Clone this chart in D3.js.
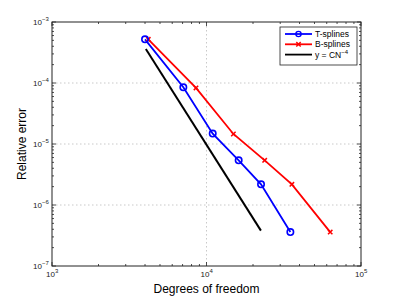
<!DOCTYPE html>
<html>
<head>
<meta charset="utf-8">
<script src="https://cdn.jsdelivr.net/npm/d3@7"></script>
<style>
  body { margin: 0; background: #fff; }
  text { font-family: "Liberation Sans", Arial, sans-serif; }
</style>
</head>
<body>
<div id="chart-area"></div>
<script>
// Data
var tDof   = [4000, 7080, 10970, 16150, 22540, 34900];
var tErr   = [5.2e-4, 8.5e-5, 1.48e-5, 5.4e-6, 2.18e-6, 3.6e-7];
var bDof   = [4200, 8550, 14930, 23800, 35700, 63200];
var bErr   = [5.2e-4, 8.3e-5, 1.46e-5, 5.4e-6, 2.18e-6, 3.6e-7];
var refDof = [4050, 22500];
var refErr = [3.6e-4, 3.8e-7];
var xTickExp = [3, 4, 5];
var yTickExp = [-7, -6, -5, -4, -3];

var margin = { left: 52, right: 38, top: 22, bottom: 34 },
    width = 399 - margin.left - margin.right,
    height = 300 - margin.top - margin.bottom;

var svg = d3.select("#chart-area").append("svg")
    .attr("width", 399)
    .attr("height", 300);

var g = svg.append("g")
    .attr("transform", "translate(" + margin.left + "," + margin.top + ")");

var x = d3.scaleLog().domain([1e3, 1e5]).range([0, width]);
var y = d3.scaleLog().domain([1e-7, 1e-3]).range([height, 0]);

// Grid (major decades only, dotted)
xTickExp.slice(1, -1).forEach(function(e) {
    g.append("line")
        .attr("x1", x(Math.pow(10, e))).attr("x2", x(Math.pow(10, e)))
        .attr("y1", 0).attr("y2", height)
        .attr("stroke", "#bbb").attr("stroke-width", 0.8)
        .attr("stroke-dasharray", "1.5,2.5");
});
yTickExp.slice(1, -1).forEach(function(e) {
    g.append("line")
        .attr("y1", y(Math.pow(10, e))).attr("y2", y(Math.pow(10, e)))
        .attr("x1", 0).attr("x2", width)
        .attr("stroke", "#bbb").attr("stroke-width", 0.8)
        .attr("stroke-dasharray", "1.5,2.5");
});

// Ticks, inward on all four sides
var xMinor = [], yMinor = [];
for (var e = 3; e < 5; e++) for (var k = 2; k < 10; k++) xMinor.push(k * Math.pow(10, e));
for (var e2 = -7; e2 < -3; e2++) for (var k2 = 2; k2 < 10; k2++) yMinor.push(k2 * Math.pow(10, e2));

var ticks = g.append("g").attr("stroke", "#222").attr("stroke-width", 0.8);
xTickExp.forEach(function(e) {
    var px = x(Math.pow(10, e));
    ticks.append("line").attr("x1", px).attr("x2", px).attr("y1", height).attr("y2", height - 4);
    ticks.append("line").attr("x1", px).attr("x2", px).attr("y1", 0).attr("y2", 4);
});
xMinor.forEach(function(v) {
    var px = x(v);
    ticks.append("line").attr("x1", px).attr("x2", px).attr("y1", height).attr("y2", height - 2);
    ticks.append("line").attr("x1", px).attr("x2", px).attr("y1", 0).attr("y2", 2);
});
yTickExp.forEach(function(e) {
    var py = y(Math.pow(10, e));
    ticks.append("line").attr("y1", py).attr("y2", py).attr("x1", 0).attr("x2", 4);
    ticks.append("line").attr("y1", py).attr("y2", py).attr("x1", width).attr("x2", width - 4);
});
yMinor.forEach(function(v) {
    var py = y(v);
    ticks.append("line").attr("y1", py).attr("y2", py).attr("x1", 0).attr("x2", 2);
    ticks.append("line").attr("y1", py).attr("y2", py).attr("x1", width).attr("x2", width - 2);
});

// Box
g.append("rect")
    .attr("width", width).attr("height", height)
    .attr("fill", "none").attr("stroke", "#222").attr("stroke-width", 1);

// Tick labels: 10 with superscript
function powLabel(sel, e) {
    sel.append("tspan").text("10");
    sel.append("tspan").attr("dy", -4).attr("font-size", "6px").text(e < 0 ? "\u2212" + (-e) : e);
}
xTickExp.forEach(function(e) {
    var t = g.append("text")
        .attr("x", x(Math.pow(10, e)) - 6)
        .attr("y", height + 11)
        .attr("font-size", "8px").attr("fill", "#222");
    powLabel(t, e);
});
yTickExp.forEach(function(e) {
    var t = g.append("text")
        .attr("x", -19)
        .attr("y", y(Math.pow(10, e)) + 3)
        .attr("font-size", "8px").attr("fill", "#222");
    powLabel(t, e);
});

// Axis labels
g.append("text")
    .attr("x", width / 2)
    .attr("y", height + 27)
    .attr("font-size", "12px")
    .attr("text-anchor", "middle")
    .text("Degrees of freedom");
g.append("text")
    .attr("transform", "rotate(-90)")
    .attr("x", -height / 2)
    .attr("y", -26)
    .attr("font-size", "12px")
    .attr("text-anchor", "middle")
    .text("Relative error");

// Lines
var line = d3.line()
    .x(function(d) { return x(d[0]); })
    .y(function(d) { return y(d[1]); });

var tData = d3.zip(tDof, tErr),
    bData = d3.zip(bDof, bErr),
    refData = d3.zip(refDof, refErr);

g.append("path").attr("d", line(refData))
    .attr("fill", "none").attr("stroke", "#000").attr("stroke-width", 2);
g.append("path").attr("d", line(bData))
    .attr("fill", "none").attr("stroke", "#ff0000").attr("stroke-width", 1.8);
g.append("path").attr("d", line(tData))
    .attr("fill", "none").attr("stroke", "#0000ff").attr("stroke-width", 1.8);

function crossMarker(sel, cx, cy) {
    sel.append("path")
        .attr("d", "M" + (cx - 2.2) + "," + (cy - 2.2) + "L" + (cx + 2.2) + "," + (cy + 2.2) +
                   "M" + (cx - 2.2) + "," + (cy + 2.2) + "L" + (cx + 2.2) + "," + (cy - 2.2))
        .attr("stroke", "#ff0000").attr("stroke-width", 1.5);
}
bData.forEach(function(d) { crossMarker(g, x(d[0]), y(d[1])); });
g.selectAll(".tmark").data(tData).enter().append("circle")
    .attr("class", "tmark")
    .attr("cx", function(d) { return x(d[0]); })
    .attr("cy", function(d) { return y(d[1]); })
    .attr("r", 3.2)
    .attr("fill", "none").attr("stroke", "#0000ff").attr("stroke-width", 1.6);

// Legend
var lg = svg.append("g").attr("transform", "translate(280,27)");
lg.append("rect").attr("width", 77).attr("height", 38)
    .attr("fill", "#fff").attr("stroke", "#222").attr("stroke-width", 0.8);
var items = [
    { name: "T-splines", color: "#0000ff", mark: "circle" },
    { name: "B-splines", color: "#ff0000", mark: "cross" },
    { name: "y = CN", color: "#000", mark: null }
];
items.forEach(function(it, i) {
    var yy = 7 + i * 10.3;
    lg.append("line").attr("x1", 5).attr("x2", 32).attr("y1", yy).attr("y2", yy)
        .attr("stroke", it.color).attr("stroke-width", 1.8);
    if (it.mark === "circle") {
        lg.append("circle").attr("cx", 18.5).attr("cy", yy).attr("r", 2.6)
            .attr("fill", "none").attr("stroke", it.color).attr("stroke-width", 1.4);
    } else if (it.mark === "cross") {
        crossMarker(lg, 18.5, yy);
    }
    var t = lg.append("text").attr("x", 35).attr("y", yy + 3)
        .attr("font-size", "8.5px").text(it.name);
    if (i === 2) {
        t.append("tspan").attr("dy", -4).attr("font-size", "6px").text("\u22124");
    }
});
</script>
</body>
</html>
